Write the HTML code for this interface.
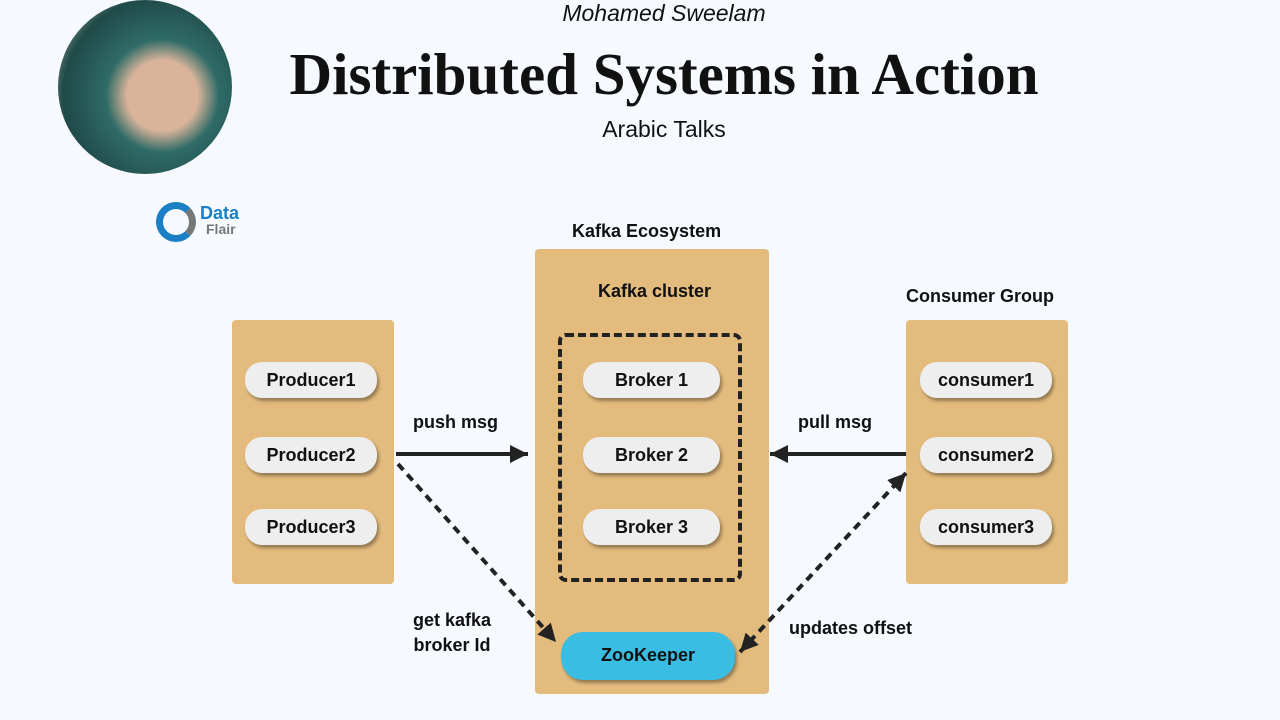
<!DOCTYPE html>
<html><head><meta charset="utf-8"><style>
body{margin:0;width:1280px;height:720px;background:#f6faff;position:relative;overflow:hidden;font-family:"Liberation Sans",sans-serif}
.a{position:absolute}
.box{position:absolute;background:#e3bb7d;border-radius:4px}
.pill{position:absolute;background:#eeeeee;border-radius:17px;box-shadow:2px 3px 3px rgba(0,0,0,.35);font-weight:bold;font-size:18px;text-align:center;line-height:36px;height:36px;color:#111}
.lbl{position:absolute;font-weight:bold;font-size:18px;color:#111;white-space:nowrap}
</style></head><body>
<div class="a" style="left:58px;top:0;width:174px;height:174px;border-radius:50%;background:radial-gradient(circle at 60% 55%,#d9b49a 0 25%,#2f6b67 40%,#1f4a48 70%,#e8e2d6 100%);"></div>
<div class="a" style="left:0;width:1280px;text-align:center;top:0;font-size:23px;font-style:italic;color:#111;padding-left:48px;box-sizing:border-box">Mohamed Sweelam</div>
<div class="a" style="left:0;width:1280px;text-align:center;top:40px;font-family:'Liberation Serif',serif;font-weight:bold;font-size:59px;color:#111;padding-left:48px;box-sizing:border-box">Distributed Systems in Action</div>
<div class="a" style="left:0;width:1280px;text-align:center;top:116px;font-size:23px;color:#111;padding-left:48px;box-sizing:border-box">Arabic Talks</div>
<div class="a" style="left:156px;top:202px;width:40px;height:40px;border-radius:50%;border:7px solid #1a7fc4;border-right-color:#777;box-sizing:border-box"></div>
<div class="a" style="left:200px;top:203px;font-weight:bold;font-size:18px;color:#1a7fc4">Data</div>
<div class="a" style="left:206px;top:221px;font-weight:bold;font-size:14px;color:#777">Flair</div>

<div class="box" style="left:232px;top:320px;width:162px;height:264px"></div>
<div class="box" style="left:535px;top:249px;width:234px;height:445px"></div>
<div class="box" style="left:906px;top:320px;width:162px;height:264px"></div>
<div class="a" style="left:558px;top:333px;width:184px;height:249px;border:4px dashed #222;border-radius:8px;box-sizing:border-box"></div>

<div class="lbl" style="left:572px;top:221px">Kafka Ecosystem</div>
<div class="lbl" style="left:598px;top:281px">Kafka cluster</div>
<div class="lbl" style="left:906px;top:286px">Consumer Group</div>

<div class="pill" style="left:245px;top:362px;width:132px">Producer1</div>
<div class="pill" style="left:245px;top:437px;width:132px">Producer2</div>
<div class="pill" style="left:245px;top:509px;width:132px">Producer3</div>
<div class="pill" style="left:583px;top:362px;width:137px">Broker 1</div>
<div class="pill" style="left:583px;top:437px;width:137px">Broker 2</div>
<div class="pill" style="left:583px;top:509px;width:137px">Broker 3</div>
<div class="pill" style="left:920px;top:362px;width:132px">consumer1</div>
<div class="pill" style="left:920px;top:437px;width:132px">consumer2</div>
<div class="pill" style="left:920px;top:509px;width:132px">consumer3</div>
<div class="pill" style="left:561px;top:632px;width:174px;height:48px;line-height:46px;border-radius:22px;background:#3abde3">ZooKeeper</div>

<div class="lbl" style="left:413px;top:412px">push msg</div>
<div class="lbl" style="left:798px;top:412px">pull msg</div>
<div class="lbl" style="left:413px;top:608px;text-align:center;line-height:25px">get kafka<br>broker Id</div>
<div class="lbl" style="left:789px;top:618px">updates offset</div>

<svg class="a" style="left:0;top:0" width="1280" height="720">
<defs>
<marker id="b" markerWidth="20" markerHeight="20" refX="18" refY="9" orient="auto-start-reverse" markerUnits="userSpaceOnUse"><path d="M0,0L18,9L0,18z" fill="#222"/></marker></defs>
<line x1="396" y1="454" x2="528" y2="454" stroke="#222" stroke-width="4" marker-end="url(#b)"/>
<line x1="906" y1="454" x2="770" y2="454" stroke="#222" stroke-width="4" marker-end="url(#b)"/>
<line x1="398" y1="464" x2="556" y2="642" stroke="#222" stroke-width="4" stroke-dasharray="8,6" marker-end="url(#b)"/>
<line x1="740" y1="652" x2="906" y2="473" stroke="#222" stroke-width="4" stroke-dasharray="8,6" marker-start="url(#b)" marker-end="url(#b)"/>
</svg>
</body></html>
